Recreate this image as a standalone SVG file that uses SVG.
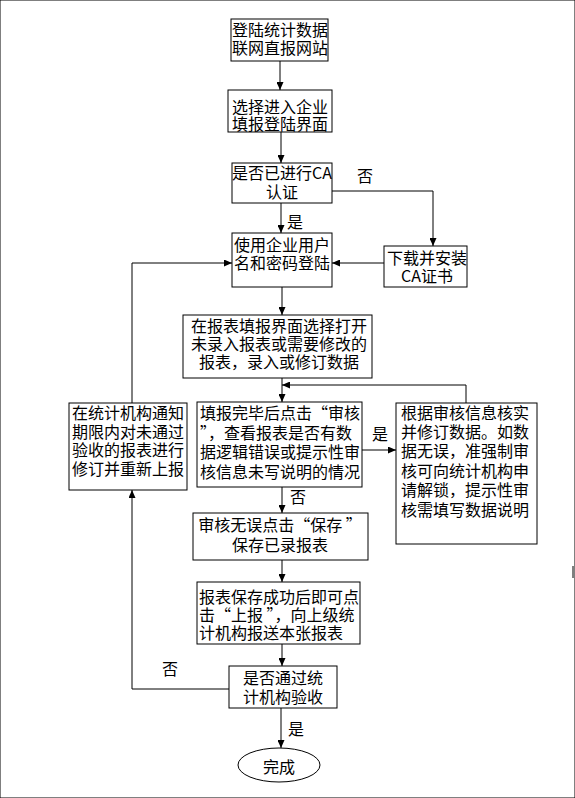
<svg xmlns="http://www.w3.org/2000/svg" width="575" height="798" viewBox="0 0 575 798">
<style>
rect,ellipse{fill:#fff;stroke:#000;stroke-width:1}
text{font-family:"Noto Sans CJK SC","Noto Sans",sans-serif;font-size:16px;fill:#000}
.c{text-anchor:middle}
.l{text-anchor:start}
.e{fill:none;stroke:#000;stroke-width:1}
</style>
<defs>
<marker id="a" markerWidth="8" markerHeight="7" refX="8" refY="3.5" orient="auto" markerUnits="userSpaceOnUse">
<path d="M0,0 L8,3.5 L0,7 z" fill="#000"/>
</marker>
</defs>
<rect x="0" y="0" width="575" height="798" fill="#fff" stroke="none"/>
<g id="connectors">
<path class="e" d="M280,61 V90" marker-end="url(#a)"/>
<path class="e" d="M281,132 V163" marker-end="url(#a)"/>
<path class="e" d="M281,203 V233" marker-end="url(#a)"/>
<path class="e" d="M332,191 H433 V246" marker-end="url(#a)"/>
<path class="e" d="M384,263 H332" marker-end="url(#a)"/>
<path class="e" d="M282,287 V315" marker-end="url(#a)"/>
<path class="e" d="M282,378 V402" marker-end="url(#a)"/>
<path class="e" d="M466,403 V385 H282" marker-end="url(#a)"/>
<path class="e" d="M362,450 H396" marker-end="url(#a)"/>
<path class="e" d="M282,487 V513" marker-end="url(#a)"/>
<path class="e" d="M282,560 V582" marker-end="url(#a)"/>
<path class="e" d="M282,644 V666" marker-end="url(#a)"/>
<path class="e" d="M229,689 H132 V490" marker-end="url(#a)"/>
<path class="e" d="M132,403 V263 H232" marker-end="url(#a)"/>
<path class="e" d="M281,708 V748" marker-end="url(#a)"/>
<path class="e" d="M573,566 V578"/>
<text x="287" y="228">是</text>
<text x="357" y="182">否</text>
<text x="372" y="440">是</text>
<text x="290" y="503">否</text>
<text x="162" y="675">否</text>
<text x="288" y="735">是</text>
</g>
<g id="n1"><rect x="231" y="19" width="97" height="42"/>
<text class="c"><tspan x="280" y="36">登陆统计数据</tspan><tspan x="280" y="54">联网直报网站</tspan></text></g>
<g id="n2"><rect x="228" y="90" width="104" height="42"/>
<text class="c"><tspan x="280" y="113">选择进入企业</tspan><tspan x="280" y="130">填报登陆界面</tspan></text></g>
<g id="n3"><rect x="232" y="163" width="100" height="40"/>
<text class="c"><tspan x="282" y="179">是否已进行CA</tspan><tspan x="282" y="198">认证</tspan></text></g>
<g id="n4"><rect x="384" y="246" width="83" height="41"/>
<text class="c"><tspan x="427" y="264">下载并安装</tspan><tspan x="427" y="282">CA证书</tspan></text></g>
<g id="n5"><rect x="232" y="233" width="100" height="54"/>
<text class="c"><tspan x="282" y="251">使用企业用户</tspan><tspan x="282" y="269">名和密码登陆</tspan></text></g>
<g id="n6"><rect x="183" y="315" width="189" height="63"/>
<text class="c"><tspan x="279" y="332">在报表填报界面选择打开</tspan><tspan x="279" y="350">未录入报表或需要修改的</tspan><tspan x="279" y="368">报表，录入或修订数据</tspan></text></g>
<g id="n7"><rect x="197" y="402" width="165" height="85"/>
<text class="l"><tspan x="200" y="419">填报完毕后点击“审核</tspan><tspan x="200" y="439">”，查看报表是否有数</tspan><tspan x="200" y="458">据逻辑错误或提示性审</tspan><tspan x="200" y="478">核信息未写说明的情况</tspan></text></g>
<g id="n8"><rect x="396" y="403" width="141" height="141"/>
<text class="l"><tspan x="401" y="419">根据审核信息核实</tspan><tspan x="401" y="438">并修订数据。如数</tspan><tspan x="401" y="457">据无误，准强制审</tspan><tspan x="401" y="477">核可向统计机构申</tspan><tspan x="401" y="496">请解锁，提示性审</tspan><tspan x="401" y="516">核需填写数据说明</tspan></text></g>
<g id="n10"><rect x="69" y="403" width="118" height="87"/>
<text class="l"><tspan x="72" y="419">在统计机构通知</tspan><tspan x="72" y="438">期限内对未通过</tspan><tspan x="72" y="456">验收的报表进行</tspan><tspan x="72" y="475">修订并重新上报</tspan></text></g>
<g id="n9"><rect x="193" y="513" width="175" height="47"/>
<text class="c"><tspan x="280" y="531">审核无误点击“保存 ”</tspan><tspan x="280" y="551">保存已录报表</tspan></text></g>
<g id="n11"><rect x="197" y="582" width="163" height="62"/>
<text class="l"><tspan x="199" y="603">报表保存成功后即可点</tspan><tspan x="199" y="621">击“上报 ”，向上级统</tspan><tspan x="199" y="639">计机构报送本张报表</tspan></text></g>
<g id="n12"><rect x="229" y="666" width="108" height="42"/>
<text class="c"><tspan x="283" y="684">是否通过统</tspan><tspan x="283" y="703">计机构验收</tspan></text></g>
<g id="n13"><ellipse cx="279" cy="765" rx="41" ry="17"/>
<text class="c" x="279" y="773">完成</text></g>
</svg>
